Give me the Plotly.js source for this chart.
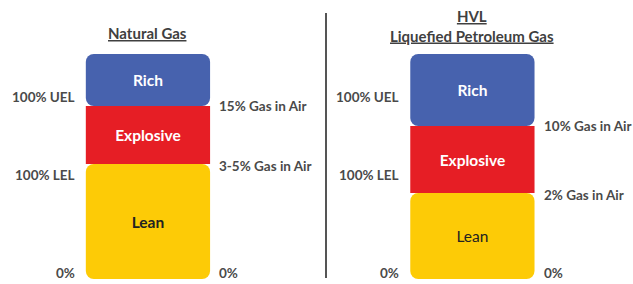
<!DOCTYPE html>
<html><head>
<meta charset="utf-8">
<script src="https://cdn.plot.ly/plotly-3.0.1.min.js"></script>
<style>html,body{margin:0;padding:0;background:#fff}</style>
</head><body>
<div id="chart" style="width:633px;height:284px"></div>
<script>
const categories = ["Natural Gas", "HVL<br>Liquefied Petroleum Gas"];
const leanValues = [115, 86];
const explosiveValues = [58, 67];
const richValues = [52, 72];
const leanText = ["<b>Lean</b>", "Lean"];
const leftLabels = ["100% UEL", "100% LEL", "0%"];
const leftLabelY = [182, 104, 6];
const rightLabels = [["15% Gas in Air", "3-5% Gas in Air", "0%"], ["10% Gas in Air", "2% Gas in Air", "0%"]];

const barWidth = 0.383;
const font = "Lato, 'Open Sans', sans-serif";
const common = {type: "bar", x: categories, width: barWidth, hoverinfo: "skip",
  textposition: "inside", insidetextanchor: "middle", constraintext: "none"};

const lean = Object.assign({}, common, {
  base: leanValues, y: leanValues.map(v => -v), text: leanText,
  marker: {color: "#FDCB06", cornerradius: 8},
  textfont: {family: font, size: 15.5, color: "#222"}
});
const explosive = Object.assign({}, common, {
  base: leanValues, y: explosiveValues, text: ["<b>Explosive</b>", "<b>Explosive</b>"],
  marker: {color: "#E61E25", cornerradius: 0},
  textfont: {family: font, size: 15.5, color: "#fff"}
});
const rich = Object.assign({}, common, {
  base: leanValues.map((v, i) => v + explosiveValues[i]), y: richValues, text: ["<b>Rich</b>", "<b>Rich</b>"],
  marker: {color: "#4762AE", cornerradius: 8},
  textfont: {family: font, size: 15.5, color: "#fff"}
});

const annotations = [];
const labFont = {family: font, size: 13.5, color: "#4a4a4a"};
categories.forEach((c, i) => {
  annotations.push({xref: "x", yref: "paper", x: i, y: i === 0 ? 1 - 33/284 : 1 - 25.5/284,
    text: c.split("<br>").map(s => "<b><u>" + s + "</u></b>").join("<br>"),
    showarrow: false, xanchor: "center", yanchor: "middle",
    font: {family: font, size: 15, color: "#404040"}});
  leftLabels.forEach((t, k) => annotations.push({xref: "x", yref: "y", x: i - barWidth/2, y: leftLabelY[k],
    text: "<b>" + t + "</b>", showarrow: false, xanchor: "right", yanchor: "middle", xshift: -9, font: labFont}));
  const ry = [leanValues[i] + explosiveValues[i], leanValues[i] - 2, leftLabelY[2]];
  rightLabels[i].forEach((t, k) => annotations.push({xref: "x", yref: "y", x: i + barWidth/2, y: ry[k],
    text: "<b>" + t + "</b>", showarrow: false, xanchor: "left", yanchor: "middle", xshift: 7, font: labFont}));
});

const layout = {
  width: 633, height: 284, margin: {l: 0, r: 0, t: 0, b: 0},
  paper_bgcolor: "#fff", plot_bgcolor: "#fff", barmode: "overlay", showlegend: false,
  xaxis: {range: [-0.456, 1.495], visible: false, fixedrange: true},
  yaxis: {range: [-5, 279], visible: false, fixedrange: true},
  annotations: annotations,
  shapes: [{type: "line", xref: "paper", yref: "paper", x0: 326/633, x1: 326/633, y0: 1 - 278/284, y1: 1 - 13/284,
    line: {color: "#555", width: 2}}]
};
Plotly.newPlot("chart", [lean, explosive, rich], layout, {staticPlot: true, displayModeBar: false});
</script>
</body></html>
